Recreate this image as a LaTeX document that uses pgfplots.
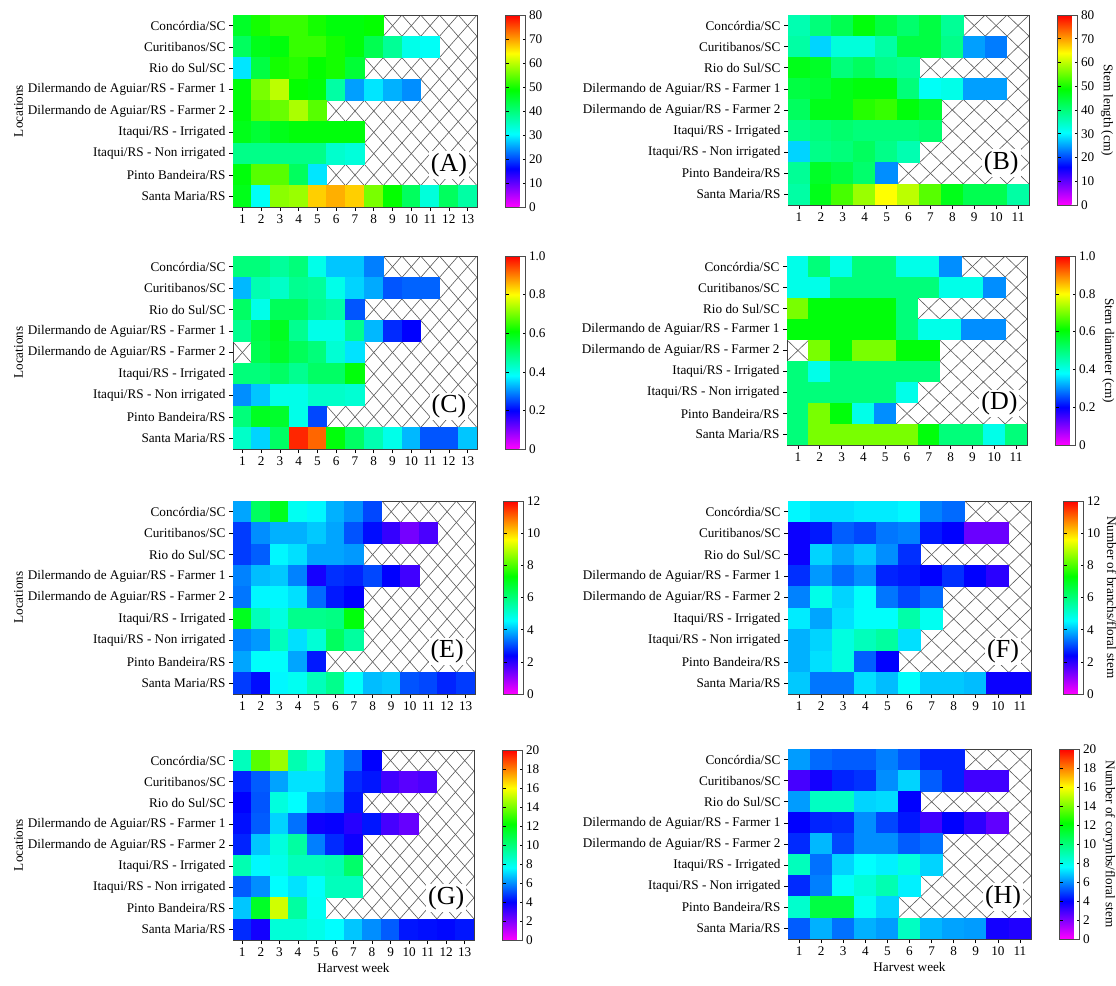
\documentclass[border=0pt]{standalone}
\usepackage{fontspec}
\setmainfont{Liberation Serif}
\usepackage{pgfplots}
\pgfplotsset{compat=1.18}

\newlength\cw
\newlength\ch
\newcommand\lbl{\fontsize{13.2bp}{15bp}\selectfont}
\newcommand\panfont{\fontsize{26bp}{28bp}\selectfont}

\pgfdeclareplotmark{cell}{%
  \pgfpathrectangle{\pgfpoint{-0.5\cw-0.35bp}{-0.5\ch-0.35bp}}{\pgfpoint{\cw+0.7bp}{\ch+0.7bp}}%
  \pgfusepathqfill}

\tikzset{hatch/.style={draw=black!65, line width=0.6bp}}

\pgfplotsset{
  colormap={rb}{rgb255(0pt)=(255,0,255) rgb255(20pt)=(0,0,255) rgb255(38pt)=(0,255,255) rgb255(61pt)=(0,255,0) rgb255(80pt)=(255,255,0) rgb255(100pt)=(255,0,0)},
  hm/.style={
    scale only axis, axis on top,
    anchor=north west,
    colormap name=rb,
    tick pos=left, tick align=outside, major tick length=4bp,
    every tick/.style={black, line width=0.6bp},
    axis line style={black!75, line width=0.8bp},
    ymin=0.5, ymax=9.5, y dir=reverse, ytick={1,...,9},
    yticklabels={Concórdia/SC, Curitibanos/SC, Rio do Sul/SC, Dilermando de Aguiar/RS - Farmer 1, Dilermando de Aguiar/RS - Farmer 2, Itaqui/RS - Irrigated, Itaqui/RS - Non irrigated, Pinto Bandeira/RS, Santa Maria/RS},
    tick label style={font=\lbl},
    label style={font=\lbl},
    ylabel shift=-2bp,
    /pgf/number format/assume math mode=true,
    colorbar,
    colorbar style={scale only axis, width=20bp, at={(parent axis.north east)}, anchor=north west, xshift=20bp,
      yticklabel style={font=\lbl}, ylabel style={font=\lbl, rotate=180},
      ylabel shift=0bp,
      axis line style={black!70, line width=0.6bp}, major tick length=3bp,
      every tick/.style={black, line width=0.5bp},
      /pgf/number format/assume math mode=true},
  },
  heat/.style={scatter, only marks, mark=cell, point meta=explicit, scatter/use mapped color={fill=mapped color}},
}

\begin{document}
\begin{tikzpicture}

% ---------------- (A) ----------------
\setlength\cw{\dimexpr 244bp/13\relax}\setlength\ch{\dimexpr 192bp/9\relax}
\begin{axis}[hm, at={(233bp,-15bp)}, width=244bp, height=192bp,
  xmin=0.5, xmax=13.5, xtick={1,...,13}, point meta min=0, point meta max=80,
  ylabel={Locations}, colorbar style={ytick={0,10,...,80}}]
\pgfplotsinvokeforeach{-8.5,-7.5,...,13.5}{
  \draw[hatch] (axis cs:#1,0.5) -- ++(9\cw,-9\ch);
  \draw[hatch] (axis cs:#1,9.5) -- ++(9\cw,9\ch);
}
\addplot[heat] table[row sep=\\, meta=z] {x y z\\
1 1 46\\ 2 1 50\\ 3 1 52\\ 4 1 52\\ 5 1 50\\ 6 1 48\\ 7 1 48\\ 8 1 49\\
1 2 42\\ 2 2 47\\ 3 2 48\\ 4 2 52\\ 5 2 52\\ 6 2 50\\ 7 2 48\\ 8 2 43\\ 9 2 38\\ 10 2 32\\ 11 2 31\\
1 3 29\\ 2 3 44\\ 3 3 50\\ 4 3 51\\ 5 3 49\\ 6 3 50\\ 7 3 45\\
1 4 48\\ 2 4 56\\ 3 4 60\\ 4 4 49\\ 5 4 48\\ 6 4 37\\ 7 4 25\\ 8 4 29\\ 9 4 26\\ 10 4 24\\
1 5 48\\ 2 5 54\\ 3 5 55\\ 4 5 59\\ 5 5 54\\
1 6 47\\ 2 6 45\\ 3 6 47\\ 4 6 48\\ 5 6 48\\ 6 6 48\\ 7 6 48\\
1 7 39\\ 2 7 39\\ 3 7 39\\ 4 7 39\\ 5 7 39\\ 6 7 34\\ 7 7 33\\
1 8 48\\ 2 8 54\\ 3 8 54\\ 4 8 42\\ 5 8 29\\
1 9 47\\ 2 9 31\\ 3 9 57\\ 4 9 58\\ 5 9 67\\ 6 9 69\\ 7 9 67\\ 8 9 56\\ 9 9 49\\ 10 9 42\\ 11 9 33\\ 12 9 42\\ 13 9 37\\
};
\node[fill=white, inner sep=2bp, font=\panfont] at (axis description cs:0.885,0.22) {(A)};
\end{axis}

% ---------------- (B) ----------------
\setlength\cw{\dimexpr 241bp/11\relax}\setlength\ch{\dimexpr 190bp/9\relax}
\begin{axis}[hm, at={(788bp,-15bp)}, width=241bp, height=190bp,
  xmin=0.5, xmax=11.5, xtick={1,...,11}, point meta min=0, point meta max=80,
  colorbar style={ytick={0,10,...,80}, ylabel={Stem length (cm)}}]
\pgfplotsinvokeforeach{-8.5,-7.5,...,11.5}{
  \draw[hatch] (axis cs:#1,0.5) -- ++(9\cw,-9\ch);
  \draw[hatch] (axis cs:#1,9.5) -- ++(9\cw,9\ch);
}
\addplot[heat] table[row sep=\\, meta=z] {x y z\\
1 1 36\\ 2 1 40\\ 3 1 43\\ 4 1 48\\ 5 1 44\\ 6 1 41\\ 7 1 44\\ 8 1 38\\
1 2 37\\ 2 2 28\\ 3 2 33\\ 4 2 33\\ 5 2 37\\ 6 2 44\\ 7 2 44\\ 8 2 39\\ 9 2 25\\ 10 2 23\\
1 3 47\\ 2 3 46\\ 3 3 40\\ 4 3 42\\ 5 3 39\\ 6 3 38\\
1 4 44\\ 2 4 45\\ 3 4 47\\ 4 4 48\\ 5 4 48\\ 6 4 40\\ 7 4 31\\ 8 4 32\\ 9 4 25\\ 10 4 25\\
1 5 42\\ 2 5 47\\ 3 5 47\\ 4 5 51\\ 5 5 52\\ 6 5 48\\ 7 5 45\\
1 6 39\\ 2 6 40\\ 3 6 41\\ 4 6 40\\ 5 6 40\\ 6 6 40\\ 7 6 41\\
1 7 28\\ 2 7 39\\ 3 7 40\\ 4 7 42\\ 5 7 39\\ 6 7 36\\
1 8 38\\ 2 8 46\\ 3 8 44\\ 4 8 41\\ 5 8 24\\
1 9 37\\ 2 9 47\\ 3 9 53\\ 4 9 58\\ 5 9 64\\ 6 9 60\\ 7 9 54\\ 8 9 47\\ 9 9 43\\ 10 9 43\\ 11 9 37\\
};
\node[fill=white, inner sep=2bp, font=\panfont] at (axis description cs:0.885,0.22) {(B)};
\end{axis}

% ---------------- (C) ----------------
\setlength\cw{\dimexpr 244bp/13\relax}\setlength\ch{\dimexpr 193bp/9\relax}
\begin{axis}[hm, at={(233bp,-256bp)}, width=244bp, height=193bp,
  xmin=0.5, xmax=13.5, xtick={1,...,13}, point meta min=0, point meta max=1,
  ylabel={Locations}, colorbar style={ytick={0,0.2,0.4,0.6,0.8,1}, yticklabels={0,0.2,0.4,0.6,0.8,1.0}}]
\pgfplotsinvokeforeach{-8.5,-7.5,...,13.5}{
  \draw[hatch] (axis cs:#1,0.5) -- ++(9\cw,-9\ch);
  \draw[hatch] (axis cs:#1,9.5) -- ++(9\cw,9\ch);
}
\addplot[heat] table[row sep=\\, meta=z] {x y z\\
1 1 0.50\\ 2 1 0.50\\ 3 1 0.47\\ 4 1 0.50\\ 5 1 0.40\\ 6 1 0.34\\ 7 1 0.34\\ 8 1 0.29\\
1 2 0.33\\ 2 2 0.45\\ 3 2 0.43\\ 4 2 0.48\\ 5 2 0.47\\ 6 2 0.40\\ 7 2 0.35\\ 8 2 0.32\\ 9 2 0.26\\ 10 2 0.27\\ 11 2 0.27\\
1 3 0.52\\ 2 3 0.40\\ 3 3 0.53\\ 4 3 0.53\\ 5 3 0.48\\ 6 3 0.46\\ 7 3 0.26\\
1 4 0.48\\ 2 4 0.55\\ 3 4 0.58\\ 4 4 0.48\\ 5 4 0.40\\ 6 4 0.40\\ 7 4 0.48\\ 8 4 0.33\\ 9 4 0.23\\ 10 4 0.20\\
2 5 0.54\\ 3 5 0.57\\ 4 5 0.53\\ 5 5 0.50\\ 6 5 0.42\\ 7 5 0.36\\
1 6 0.50\\ 2 6 0.50\\ 3 6 0.52\\ 4 6 0.48\\ 5 6 0.52\\ 6 6 0.52\\ 7 6 0.60\\
1 7 0.30\\ 2 7 0.34\\ 3 7 0.40\\ 4 7 0.40\\ 5 7 0.43\\ 6 7 0.43\\ 7 7 0.42\\
1 8 0.50\\ 2 8 0.58\\ 3 8 0.57\\ 4 8 0.40\\ 5 8 0.25\\
1 9 0.43\\ 2 9 0.35\\ 3 9 0.52\\ 4 9 0.97\\ 5 9 0.92\\ 6 9 0.60\\ 7 9 0.52\\ 8 9 0.45\\ 9 9 0.40\\ 10 9 0.33\\ 11 9 0.26\\ 12 9 0.26\\ 13 9 0.34\\
};
\node[fill=white, inner sep=2bp, font=\panfont] at (axis description cs:0.885,0.22) {(C)};
\end{axis}

% ---------------- (D) ----------------
\setlength\cw{\dimexpr 240bp/11\relax}\setlength\ch{\dimexpr 189bp/9\relax}
\begin{axis}[hm, at={(787bp,-256bp)}, width=240bp, height=189bp,
  xmin=0.5, xmax=11.5, xtick={1,...,11}, point meta min=0, point meta max=1,
  colorbar style={ytick={0,0.2,0.4,0.6,0.8,1}, yticklabels={0,0.2,0.4,0.6,0.8,1.0}, ylabel={Stem diameter (cm)}}]
\pgfplotsinvokeforeach{-8.5,-7.5,...,11.5}{
  \draw[hatch] (axis cs:#1,0.5) -- ++(9\cw,-9\ch);
  \draw[hatch] (axis cs:#1,9.5) -- ++(9\cw,9\ch);
}
\addplot[heat] table[row sep=\\, meta=z] {x y z\\
1 1 0.4\\ 2 1 0.5\\ 3 1 0.4\\ 4 1 0.5\\ 5 1 0.5\\ 6 1 0.4\\ 7 1 0.4\\ 8 1 0.3\\
1 2 0.4\\ 2 2 0.4\\ 3 2 0.5\\ 4 2 0.5\\ 5 2 0.5\\ 6 2 0.5\\ 7 2 0.5\\ 8 2 0.4\\ 9 2 0.4\\ 10 2 0.3\\
1 3 0.7\\ 2 3 0.6\\ 3 3 0.6\\ 4 3 0.6\\ 5 3 0.6\\ 6 3 0.5\\
1 4 0.6\\ 2 4 0.6\\ 3 4 0.6\\ 4 4 0.6\\ 5 4 0.6\\ 6 4 0.5\\ 7 4 0.4\\ 8 4 0.4\\ 9 4 0.3\\ 10 4 0.3\\
2 5 0.7\\ 3 5 0.6\\ 4 5 0.7\\ 5 5 0.7\\ 6 5 0.6\\ 7 5 0.6\\
1 6 0.5\\ 2 6 0.4\\ 3 6 0.5\\ 4 6 0.5\\ 5 6 0.5\\ 6 6 0.5\\ 7 6 0.5\\
1 7 0.5\\ 2 7 0.5\\ 3 7 0.5\\ 4 7 0.5\\ 5 7 0.5\\ 6 7 0.4\\
1 8 0.5\\ 2 8 0.7\\ 3 8 0.6\\ 4 8 0.4\\ 5 8 0.3\\
1 9 0.5\\ 2 9 0.7\\ 3 9 0.7\\ 4 9 0.7\\ 5 9 0.7\\ 6 9 0.7\\ 7 9 0.6\\ 8 9 0.5\\ 9 9 0.5\\ 10 9 0.4\\ 11 9 0.5\\
};
\node[fill=white, inner sep=2bp, font=\panfont] at (axis description cs:0.885,0.22) {(D)};
\end{axis}

% ---------------- (E) ----------------
\setlength\cw{\dimexpr 242bp/13\relax}\setlength\ch{\dimexpr 193bp/9\relax}
\begin{axis}[hm, at={(233bp,-501bp)}, width=242bp, height=193bp,
  xmin=0.5, xmax=13.5, xtick={1,...,13}, point meta min=0, point meta max=12,
  ylabel={Locations}, colorbar style={ytick={0,2,...,12}}]
\pgfplotsinvokeforeach{-8.5,-7.5,...,13.5}{
  \draw[hatch] (axis cs:#1,0.5) -- ++(9\cw,-9\ch);
  \draw[hatch] (axis cs:#1,9.5) -- ++(9\cw,9\ch);
}
\addplot[heat] table[row sep=\\, meta=z] {x y z\\
1 1 3.8\\ 2 1 6.3\\ 3 1 7.0\\ 4 1 4.7\\ 5 1 4.5\\ 6 1 3.9\\ 7 1 3.6\\ 8 1 3.0\\
1 2 2.9\\ 2 2 3.6\\ 3 2 3.9\\ 4 2 3.9\\ 5 2 4.1\\ 6 2 3.8\\ 7 2 3.1\\ 8 2 2.5\\ 9 2 1.9\\ 10 2 1.3\\ 11 2 1.7\\
1 3 2.9\\ 2 3 3.2\\ 3 3 4.5\\ 4 3 4.3\\ 5 3 3.8\\ 6 3 3.8\\ 7 3 3.7\\
1 4 3.5\\ 2 4 4.0\\ 3 4 4.1\\ 4 4 3.5\\ 5 4 2.2\\ 6 4 2.8\\ 7 4 2.7\\ 8 4 3.0\\ 9 4 2.4\\ 10 4 1.8\\
1 5 3.4\\ 2 5 4.5\\ 3 5 4.5\\ 4 5 4.3\\ 5 5 3.3\\ 6 5 2.6\\ 7 5 2.4\\
1 6 7.0\\ 2 6 5.3\\ 3 6 4.9\\ 4 6 5.8\\ 5 6 5.8\\ 6 6 5.9\\ 7 6 7.2\\
1 7 3.5\\ 2 7 3.7\\ 3 7 5.3\\ 4 7 4.3\\ 5 7 5.0\\ 6 7 6.3\\ 7 7 5.6\\
1 8 3.8\\ 2 8 4.6\\ 3 8 4.6\\ 4 8 3.8\\ 5 8 2.6\\
1 9 2.9\\ 2 9 2.5\\ 3 9 4.5\\ 4 9 4.7\\ 5 9 5.3\\ 6 9 5.8\\ 7 9 4.6\\ 8 9 4.0\\ 9 9 4.1\\ 10 9 3.1\\ 11 9 3.0\\ 12 9 2.7\\ 13 9 2.9\\
};
\node[fill=white, inner sep=2bp, font=\panfont] at (axis description cs:0.885,0.22) {(E)};
\end{axis}

% ---------------- (F) ----------------
\setlength\cw{\dimexpr 243bp/11\relax}\setlength\ch{\dimexpr 193bp/9\relax}
\begin{axis}[hm, at={(788bp,-501bp)}, width=243bp, height=193bp,
  xmin=0.5, xmax=11.5, xtick={1,...,11}, point meta min=0, point meta max=12,
  colorbar style={xshift=4bp, ytick={0,2,...,12}, ylabel={Number of branchs/floral stem}}]
\pgfplotsinvokeforeach{-8.5,-7.5,...,11.5}{
  \draw[hatch] (axis cs:#1,0.5) -- ++(9\cw,-9\ch);
  \draw[hatch] (axis cs:#1,9.5) -- ++(9\cw,9\ch);
}
\addplot[heat] table[row sep=\\, meta=z] {x y z\\
1 1 4.5\\ 2 1 4.3\\ 3 1 4.3\\ 4 1 4.4\\ 5 1 4.4\\ 6 1 4.5\\ 7 1 3.5\\ 8 1 3.3\\
1 2 2.3\\ 2 2 2.6\\ 3 2 3.2\\ 4 2 3.0\\ 5 2 3.4\\ 6 2 3.5\\ 7 2 2.6\\ 8 2 2.4\\ 9 2 1.4\\ 10 2 1.4\\
1 3 2.3\\ 2 3 4.2\\ 3 3 3.8\\ 4 3 4.1\\ 5 3 3.6\\ 6 3 2.8\\
1 4 2.8\\ 2 4 3.7\\ 3 4 3.3\\ 4 4 3.6\\ 5 4 2.7\\ 6 4 2.6\\ 7 4 2.4\\ 8 4 2.8\\ 9 4 2.4\\ 10 4 2.0\\
1 5 3.5\\ 2 5 4.8\\ 3 5 4.2\\ 4 5 4.6\\ 5 5 3.4\\ 6 5 3.0\\ 7 5 3.3\\
1 6 4.4\\ 2 6 3.8\\ 3 6 4.3\\ 4 6 4.6\\ 5 6 4.6\\ 6 6 5.5\\ 7 6 4.7\\
1 7 3.9\\ 2 7 4.2\\ 3 7 4.9\\ 4 7 5.3\\ 5 7 5.6\\ 6 7 4.3\\
1 8 3.9\\ 2 8 4.3\\ 3 8 4.9\\ 4 8 3.2\\ 5 8 2.4\\
1 9 4.1\\ 2 9 3.4\\ 3 9 3.4\\ 4 9 4.3\\ 5 9 4.0\\ 6 9 4.6\\ 7 9 4.1\\ 8 9 4.1\\ 9 9 4.0\\ 10 9 2.3\\ 11 9 2.3\\
};
\node[fill=white, inner sep=2bp, font=\panfont] at (axis description cs:0.885,0.22) {(F)};
\end{axis}

% ---------------- (G) ----------------
\setlength\cw{\dimexpr 241bp/13\relax}\setlength\ch{\dimexpr 190bp/9\relax}
\begin{axis}[hm, at={(233bp,-750bp)}, width=241bp, height=190bp,
  xmin=0.5, xmax=13.5, xtick={1,...,13}, point meta min=0, point meta max=20,
  ylabel={Locations}, xlabel={Harvest week}, colorbar style={ytick={0,2,...,20}}]
\pgfplotsinvokeforeach{-8.5,-7.5,...,13.5}{
  \draw[hatch] (axis cs:#1,0.5) -- ++(9\cw,-9\ch);
  \draw[hatch] (axis cs:#1,9.5) -- ++(9\cw,9\ch);
}
\addplot[heat] table[row sep=\\, meta=z] {x y z\\
1 1 8.8\\ 2 1 13.5\\ 3 1 14.5\\ 4 1 9.0\\ 5 1 8.2\\ 6 1 6.5\\ 7 1 5.5\\ 8 1 4.0\\
1 2 4.5\\ 2 2 5.3\\ 3 2 6.3\\ 4 2 7.2\\ 5 2 7.2\\ 6 2 6.5\\ 7 2 4.6\\ 8 2 4.3\\ 9 2 3.0\\ 10 2 2.6\\ 11 2 2.8\\
1 3 4.0\\ 2 3 5.2\\ 3 3 8.2\\ 4 3 7.6\\ 5 3 6.3\\ 6 3 6.0\\ 7 3 4.3\\
1 4 4.2\\ 2 4 5.3\\ 3 4 7.0\\ 4 4 5.6\\ 5 4 3.8\\ 6 4 3.9\\ 7 4 3.4\\ 8 4 4.3\\ 9 4 2.9\\ 10 4 2.4\\
1 5 4.5\\ 2 5 6.8\\ 3 5 8.2\\ 4 5 9.3\\ 5 5 5.8\\ 6 5 4.6\\ 7 5 3.8\\
1 6 9.0\\ 2 6 7.5\\ 3 6 8.0\\ 4 6 8.8\\ 5 6 8.8\\ 6 6 9.0\\ 7 6 10.3\\
1 7 5.3\\ 2 7 6.0\\ 3 7 7.6\\ 4 7 7.2\\ 5 7 7.7\\ 6 7 8.8\\ 7 7 8.8\\
1 8 6.8\\ 2 8 11.5\\ 3 8 15.3\\ 4 8 9.3\\ 5 8 7.8\\
1 9 4.6\\ 2 9 3.7\\ 3 9 8.3\\ 4 9 8.3\\ 5 9 8.0\\ 6 9 7.6\\ 7 9 6.8\\ 8 9 6.0\\ 9 9 5.3\\ 10 9 4.3\\ 11 9 4.2\\ 12 9 4.1\\ 13 9 4.3\\
};
\node[fill=white, inner sep=2bp, font=\panfont] at (axis description cs:0.885,0.22) {(G)};
\end{axis}

% ---------------- (H) ----------------
\setlength\cw{\dimexpr 243bp/11\relax}\setlength\ch{\dimexpr 190bp/9\relax}
\begin{axis}[hm, at={(788bp,-749bp)}, width=243bp, height=190bp,
  xmin=0.5, xmax=11.5, xtick={1,...,11}, point meta min=0, point meta max=20,
  xlabel={Harvest week}, colorbar style={ytick={0,2,...,20}, ylabel={Number of corymbs/floral stem}}]
\pgfplotsinvokeforeach{-8.5,-7.5,...,11.5}{
  \draw[hatch] (axis cs:#1,0.5) -- ++(9\cw,-9\ch);
  \draw[hatch] (axis cs:#1,9.5) -- ++(9\cw,9\ch);
}
\addplot[heat] table[row sep=\\, meta=z] {x y z\\
1 1 6.2\\ 2 1 5.5\\ 3 1 5.3\\ 4 1 5.3\\ 5 1 5.8\\ 6 1 5.2\\ 7 1 4.5\\ 8 1 4.5\\
1 2 2.9\\ 2 2 3.7\\ 3 2 4.5\\ 4 2 4.7\\ 5 2 6.0\\ 6 2 7.0\\ 7 2 5.3\\ 8 2 4.5\\ 9 2 3.0\\ 10 2 3.0\\
1 3 6.2\\ 2 3 8.7\\ 3 3 8.7\\ 4 3 7.0\\ 5 3 7.1\\ 6 3 4.0\\
1 4 4.0\\ 2 4 4.5\\ 3 4 4.6\\ 4 4 6.0\\ 5 4 5.0\\ 6 4 4.3\\ 7 4 3.0\\ 8 4 4.0\\ 9 4 3.3\\ 10 4 2.5\\
1 5 4.6\\ 2 5 6.6\\ 3 5 5.0\\ 4 5 6.0\\ 5 5 6.0\\ 6 5 5.3\\ 7 5 5.6\\
1 6 8.8\\ 2 6 5.6\\ 3 6 7.0\\ 4 6 7.6\\ 5 6 7.4\\ 6 6 8.2\\ 7 6 7.0\\
1 7 4.6\\ 2 7 5.8\\ 3 7 7.7\\ 4 7 8.3\\ 5 7 9.0\\ 6 7 7.4\\
1 8 8.5\\ 2 8 11.0\\ 3 8 11.0\\ 4 8 7.8\\ 5 8 7.0\\
1 9 5.3\\ 2 9 6.5\\ 3 9 5.6\\ 4 9 6.5\\ 5 9 6.2\\ 6 9 8.7\\ 7 9 6.6\\ 8 9 6.3\\ 9 9 6.2\\ 10 9 3.7\\ 11 9 3.5\\
};
\node[fill=white, inner sep=2bp, font=\panfont] at (axis description cs:0.885,0.22) {(H)};
\end{axis}

\pgfresetboundingbox
\path[use as bounding box] (0bp,0bp) rectangle (1116bp,-986bp);
\end{tikzpicture}
\end{document}
